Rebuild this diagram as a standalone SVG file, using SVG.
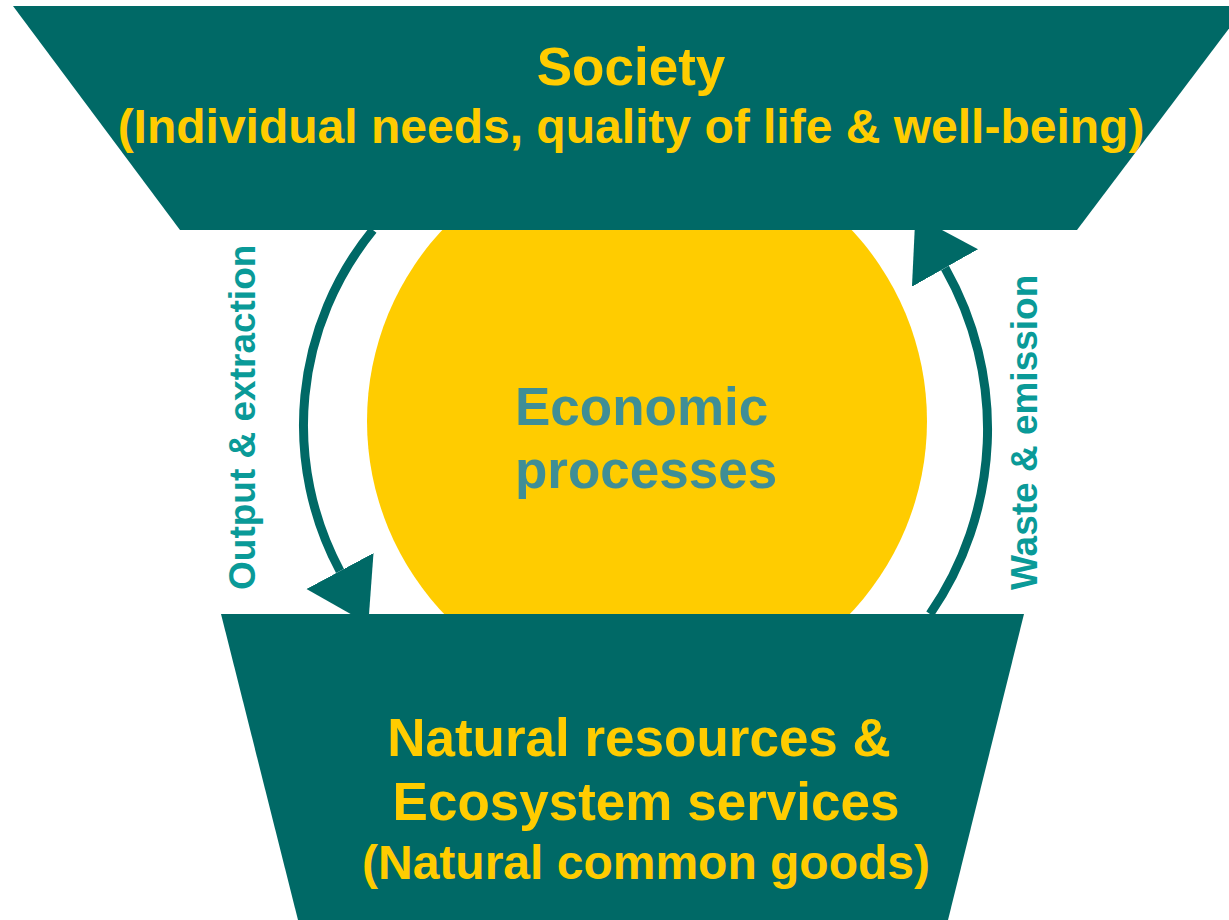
<svg xmlns="http://www.w3.org/2000/svg" width="1229" height="920" viewBox="0 0 1229 920">
  <style>
    .panel { fill: #006966; }
    .title { font-family: "Liberation Sans", Arial, sans-serif; font-weight: bold; fill: #FFCC00; text-anchor: middle; }
    .flow { fill: none; stroke: #006966; stroke-width: 9; }
    .flowlabel { font-family: "Liberation Sans", Arial, sans-serif; font-weight: bold; font-size: 37px; fill: #0A9A98; }
    .econ { font-family: "Liberation Sans", Arial, sans-serif; font-weight: bold; font-size: 53px; fill: #3F8E96; }
  </style>
  <defs>
    <marker id="arrow" markerUnits="userSpaceOnUse" markerWidth="62" markerHeight="78" refX="0" refY="38" orient="auto" viewBox="0 0 62 78">
      <path d="M0,0 L60,38 L0,76 Z" fill="#006966"/>
    </marker>
  </defs>
  <rect width="1229" height="920" fill="#FFFFFF"/>

  <g id="economic-processes">
    <circle cx="647" cy="421" r="280" fill="#FFCC00"/>
    <text class="econ" x="515" y="425">Economic</text>
    <text class="econ" x="515" y="488">processes</text>
  </g>

  <g id="connectors">
    <path class="flow" d="M373,230 A309,309 0 0 0 340,571" marker-end="url(#arrow)"/>
    <path class="flow" d="M930,614 A326,326 0 0 0 945,268" marker-end="url(#arrow)"/>
    <text class="flowlabel" transform="translate(255,590) rotate(-90)">Output &amp; extraction</text>
    <text class="flowlabel" transform="translate(1037,590) rotate(-90)">Waste &amp; emission</text>
  </g>

  <g id="society">
    <polygon class="panel" points="13,6 1246,6 1077,230 180,230"/>
    <text class="title" x="631" y="85" font-size="53">Society</text>
    <text class="title" x="631" y="143" font-size="48">(Individual needs, quality of life &amp; well-being)</text>
  </g>

  <g id="natural-resources">
    <polygon class="panel" points="221,614 1024,614 948,920 298,920"/>
    <text class="title" x="639" y="756" font-size="53">Natural resources &amp;</text>
    <text class="title" x="646" y="820" font-size="53">Ecosystem services</text>
    <text class="title" x="646" y="879" font-size="48">(Natural common goods)</text>
  </g>
</svg>
